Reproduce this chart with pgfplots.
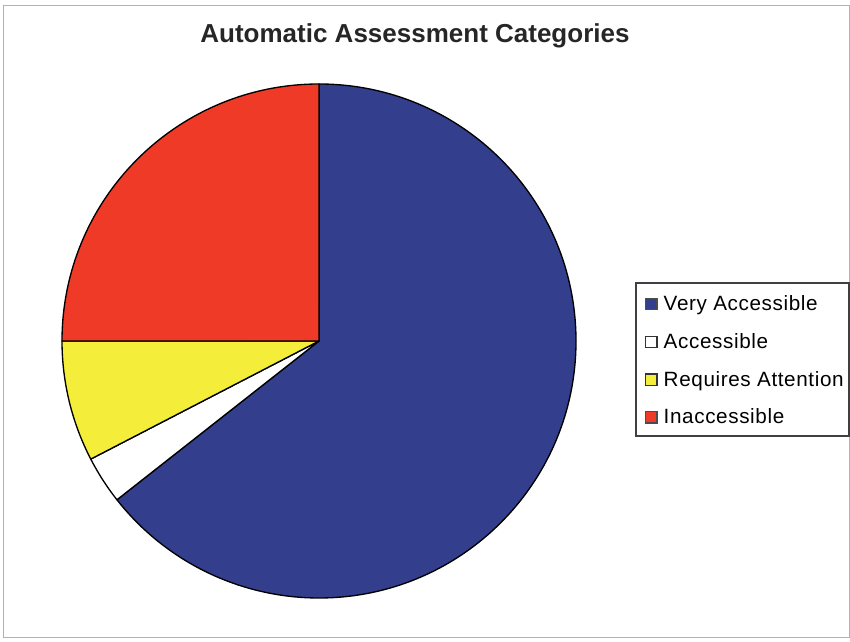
\documentclass[border=0pt]{standalone}
\usepackage{pgfplots}
\pgfplotsset{compat=1.18}
\usepackage{fontspec}
\setmainfont{Liberation Sans}
\definecolor{vablue}{RGB}{51,63,141}
\definecolor{acwhite}{RGB}{255,255,255}
\definecolor{reqyellow}{RGB}{244,238,58}
\definecolor{inred}{RGB}{240,58,40}
% data (percent of pages)
\def\vVery{64.4}
\def\vAcc{3.0}
\def\vReq{7.6}
\def\vIn{25.0}
\pgfmathsetmacro{\tot}{\vVery+\vAcc+\vReq+\vIn}
\pgfmathsetmacro{\aA}{90}
\pgfmathsetmacro{\aB}{\aA-\vVery/\tot*360}
\pgfmathsetmacro{\aC}{\aB-\vAcc/\tot*360}
\pgfmathsetmacro{\aD}{\aC-\vReq/\tot*360}
\pgfmathsetmacro{\aE}{\aD-\vIn/\tot*360}
\def\cx{319}
\def\cy{301}
\begin{document}
\begin{tikzpicture}
\begin{axis}[
  scale only axis, width=637.5pt, height=481.5pt,
  xmin=0, xmax=850, ymin=0, ymax=642,
  hide axis, clip=false,
  legend style={at={(axis cs:641,352)}, anchor=north west, draw=none, fill=none,
    font=\fontsize{15.5}{18}\selectfont\addfontfeatures{LetterSpace=3}, inner xsep=3pt, inner ysep=2pt,
    row sep=11.6pt, cells={anchor=west}},
  legend image code/.code={\draw[#1,line width=0.9pt] (0pt,-4.2pt) rectangle (8.4pt,4.2pt);
    \path[draw=none,fill=none] (0pt,0pt) -- (11.4pt,0pt);},
]
\addlegendimage{fill=vablue, draw=black!70}
\addlegendentry{Very Accessible}
\addlegendimage{fill=acwhite, draw=black!80}
\addlegendentry{Accessible}
\addlegendimage{fill=reqyellow, draw=black!80}
\addlegendentry{Requires Attention}
\addlegendimage{fill=inred, draw=black!70}
\addlegendentry{Inaccessible}
\draw[black!30] (axis cs:3,5) rectangle (axis cs:849,637);
\draw[black!75, line width=0.8pt] (axis cs:636,359) rectangle (axis cs:849,206);
\filldraw[fill=vablue, draw=black, line width=1pt, line join=round]
  (axis cs:\cx,\cy) -- ++(\aA:192.75pt) arc[start angle=\aA, end angle=\aB, radius=192.75pt] -- cycle;
\filldraw[fill=acwhite, draw=black, line width=1pt, line join=round]
  (axis cs:\cx,\cy) -- ++(\aB:192.75pt) arc[start angle=\aB, end angle=\aC, radius=192.75pt] -- cycle;
\filldraw[fill=reqyellow, draw=black, line width=1pt, line join=round]
  (axis cs:\cx,\cy) -- ++(\aC:192.75pt) arc[start angle=\aC, end angle=\aD, radius=192.75pt] -- cycle;
\filldraw[fill=inred, draw=black, line width=1pt, line join=round]
  (axis cs:\cx,\cy) -- ++(\aD:192.75pt) arc[start angle=\aD, end angle=\aE, radius=192.75pt] -- cycle;
\node[font=\bfseries\fontsize{19.5}{23}\selectfont, text=black!85] at (axis cs:415,606) {Automatic Assessment Categories};
\end{axis}
\pgfresetboundingbox
\useasboundingbox (0,0) rectangle (637.5pt,481.5pt);
\end{tikzpicture}
\end{document}
